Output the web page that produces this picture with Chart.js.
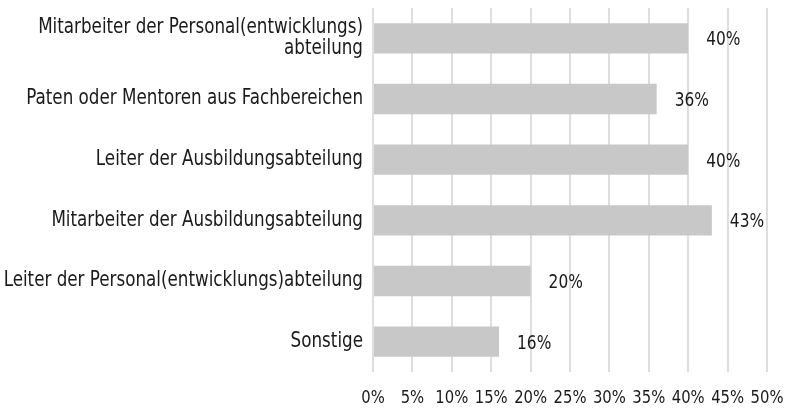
<!DOCTYPE html>
<html>
<head>
<meta charset="utf-8">
<script src="https://cdn.jsdelivr.net/npm/chart.js@4.4.1/dist/chart.umd.min.js"></script>
<style>
  html, body { margin: 0; padding: 0; background: #ffffff; }
  #wrap { width: 789px; height: 408px; }
</style>
</head>
<body>
<div id="wrap"><canvas id="c" width="789" height="408"></canvas></div>
<script>
const categories = [
  ["Mitarbeiter der Personal(entwicklungs)", "abteilung"],
  "Paten oder Mentoren aus Fachbereichen",
  "Leiter der Ausbildungsabteilung",
  "Mitarbeiter der Ausbildungsabteilung",
  "Leiter der Personal(entwicklungs)abteilung",
  "Sonstige"
];
const values = [40, 36, 40, 43, 20, 16];
const tickValues = [0, 5, 10, 15, 20, 25, 30, 35, 40, 45, 50];

const FONT = '"DejaVu Sans Condensed", "Liberation Sans Narrow", sans-serif';
const TEXT_SQUEEZE = 0.9; // horizontal condensing of all text, like the condensed original face

const canvas = document.getElementById('c');
const ctx2d = canvas.getContext('2d');
const origFillText = ctx2d.fillText.bind(ctx2d);
ctx2d.fillText = function (text, x, y, maxWidth) {
  this.save();
  this.translate(x, y);
  this.scale(TEXT_SQUEEZE, 1);
  if (maxWidth !== undefined) origFillText(text, 0, 0, maxWidth / TEXT_SQUEEZE);
  else origFillText(text, 0, 0);
  this.restore();
};

const valueLabels = {
  id: 'valueLabels',
  afterDatasetsDraw(chart) {
    const ctx = chart.ctx;
    const meta = chart.getDatasetMeta(0);
    ctx.save();
    ctx.font = '19px ' + FONT;
    ctx.fillStyle = '#1a1a1a';
    ctx.textAlign = 'left';
    ctx.textBaseline = 'middle';
    meta.data.forEach((bar, i) => {
      ctx.fillText(values[i] + '%', bar.x + 18, bar.y + 2);
    });
    ctx.restore();
  }
};

new Chart(canvas, {
  type: 'bar',
  data: {
    labels: categories,
    datasets: [{
      data: values,
      backgroundColor: '#c8c8c8',
      borderWidth: 0,
      barPercentage: 0.5,
      categoryPercentage: 1.0
    }]
  },
  options: {
    indexAxis: 'y',
    responsive: false,
    animation: false,
    devicePixelRatio: 1,
    layout: { padding: { top: 8, right: 22, bottom: 0, left: 0 } },
    plugins: {
      legend: { display: false },
      tooltip: { enabled: false }
    },
    scales: {
      x: {
        min: 0,
        max: 50,
        afterBuildTicks(scale) {
          scale.ticks = tickValues.map(v => ({ value: v }));
        },
        afterFit(scale) {
          scale.height = 36;
          scale.paddingLeft = 0;
          scale.paddingRight = 0;
        },
        grid: { color: '#dedede', lineWidth: 2, drawTicks: false },
        border: { display: false },
        ticks: {
          padding: 15,
          color: '#1a1a1a',
          font: { family: FONT, size: 18.3 },
          maxRotation: 0,
          autoSkip: false,
          callback: v => v + '%'
        }
      },
      y: {
        afterFit(scale) {
          scale.width = 373;
          scale.paddingTop = 0;
          scale.paddingBottom = 0;
        },
        grid: { display: false, drawTicks: false },
        border: { display: false },
        ticks: {
          padding: 10,
          color: '#1a1a1a',
          font: { family: FONT, size: 20.7, lineHeight: 1.0 },
          autoSkip: false
        }
      }
    }
  },
  plugins: [valueLabels]
});
</script>
</body>
</html>
